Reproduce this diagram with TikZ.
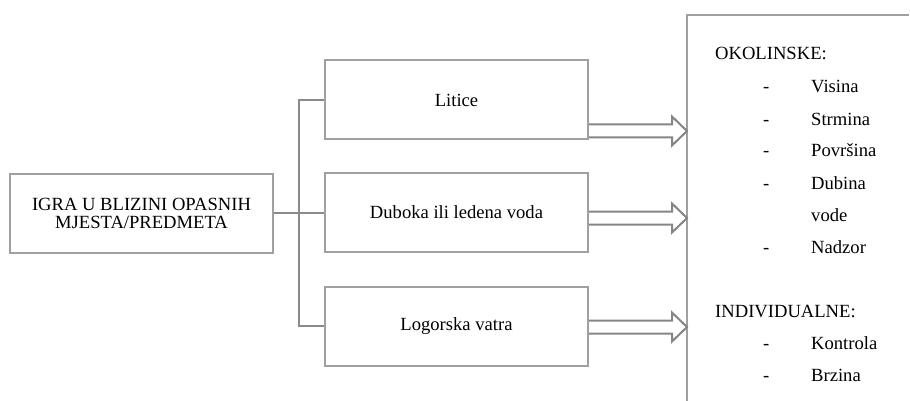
\documentclass[tikz,border=0pt]{standalone}
\usepackage{fontspec}
\setmainfont{Liberation Serif}
\usetikzlibrary{calc}
\definecolor{boxgray}{HTML}{A0A0A0}
\definecolor{linegray}{HTML}{8A8A8A}
\definecolor{arrgray}{HTML}{858585}
\tikzset{
  x=1pt, y=-1pt,
  boxsty/.style={draw=boxgray, line width=2pt, fill=white, minimum width=263pt, minimum height=79pt, inner sep=2pt, align=center, font=\fontsize{18.6}{20}\selectfont},
  conn/.style={draw=linegray, line width=2pt},
  fatarrow/.style={draw=arrgray, line width=2pt, line join=miter},
  listtxt/.style={anchor=base west, inner sep=0pt, font=\fontsize{18.6}{20}\selectfont},
  panel/.style={draw=boxgray, line width=2pt}
}
\begin{document}
\begin{tikzpicture}
\useasboundingbox (0,0) rectangle (910,401);
% main box
\node[boxsty] (main) at (141.5,213) {IGRA U BLIZINI OPASNIH\\[-2pt]MJESTA/PREDMETA};
% three boxes
\node[boxsty] (b1) at (456.5,100) {Litice};
\node[boxsty] (b2) at (456.5,212.5) {Duboka ili ledena voda};
\node[boxsty] (b3) at (456.5,326) {Logorska vatra};
% tree connector
\coordinate (jn) at (299,213);
\draw[conn] (main.east |- jn) -- (jn);
\draw[conn] (jn) -- (b2.west |- jn);
\draw[conn] (b1.west |- 0,100) -| (jn) |- (b3.west |- 0,326);
% right panel
\coordinate (pTL) at (687,15);
\coordinate (pTR) at (909,15);
\coordinate (pBL) at (687,402);
\draw[panel] (pBL) -- (pTL) -- (pTR);
% fat arrows
\foreach \b/\yc in {b1/131, b2/218, b3/327}{
  \draw[fatarrow] (\b.east |- 0,\yc-6.5) -- (672,\yc-6.5) -- (672,\yc-14.5) -- (pTL |- 0,\yc) -- (672,\yc+14.5) -- (672,\yc+6.5) -- (\b.east |- 0,\yc+6.5);
}
% list text
\node[listtxt] (ok) at (715,60) {OKOLINSKE:};
\foreach \y/\t [count=\i] in {93/Visina,125/Strmina,157/Površina,189/Dubina}{
  \node[listtxt] (d\i) at (763,\y) {-};
  \node[listtxt] (w\i) at (811,\y) {\t};
}
\node[listtxt] (w5) at (811,221) {vode};
\node[listtxt] (d6) at (763,253) {-};
\node[listtxt] (w6) at (811,253) {Nadzor};
\node[listtxt] (ind) at (715,317) {INDIVIDUALNE:};
\node[listtxt] (d7) at (763,349) {-};
\node[listtxt] (w7) at (811,349) {Kontrola};
\node[listtxt] (d8) at (763,381) {-};
\node[listtxt] (w8) at (811,381) {Brzina};
\end{tikzpicture}
\end{document}
